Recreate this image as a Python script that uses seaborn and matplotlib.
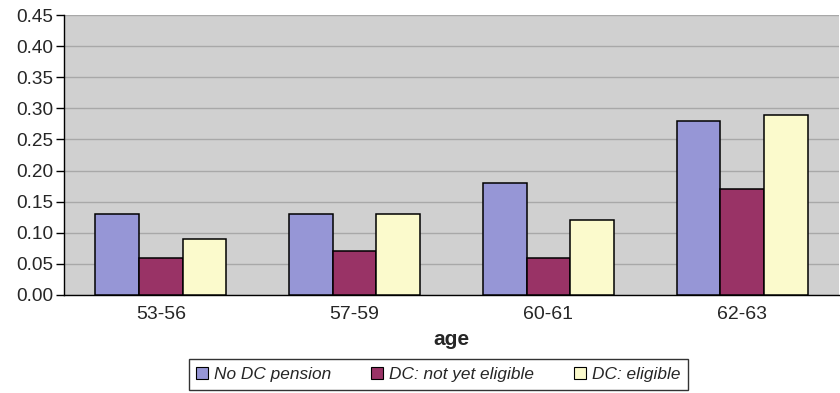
import matplotlib
matplotlib.use("Agg")
import matplotlib.pyplot as plt
import seaborn as sns
import pandas as pd
from matplotlib.patches import Patch

# Share of respondents by age group and pension status
ages = ["53-56", "57-59", "60-61", "62-63"]
no_dc = [0.13, 0.13, 0.18, 0.28]
dc_not_eligible = [0.06, 0.07, 0.06, 0.17]
dc_eligible = [0.09, 0.13, 0.12, 0.29]
series_names = ["No DC pension", "DC: not yet eligible", "DC: eligible"]
colors = ["#9696D6", "#993366", "#FBFACC"]
yticks = [0.00, 0.05, 0.10, 0.15, 0.20, 0.25, 0.30, 0.35, 0.40, 0.45]

rows = []
for name, vals in zip(series_names, [no_dc, dc_not_eligible, dc_eligible]):
    for a, v in zip(ages, vals):
        rows.append({"age": a, "status": name, "value": v})
df = pd.DataFrame(rows)

sns.set_theme(style="white")
plt.rcParams["font.family"] = ["Liberation Sans", "DejaVu Sans"]

fig = plt.figure(figsize=(8.4, 3.93), dpi=100)
ax = fig.add_axes([0.0762, 0.2494, 0.9226, 0.7124])
ax.set_facecolor("#D0D0D0")

sns.barplot(data=df, x="age", y="value", hue="status", hue_order=series_names,
            palette=colors, width=0.675, gap=0, edgecolor="black", linewidth=1.1,
            saturation=1, ax=ax, legend=False, zorder=3)

ax.set_ylim(0, 0.45)
ax.set_xlim(-0.5, 3.5)
ax.set_yticks(yticks)
ax.set_yticklabels([f"{t:.2f}" for t in yticks])
ax.yaxis.grid(True, color="#A8A8A8", linewidth=1.0, zorder=0)
ax.set_axisbelow(True)

# category labels centred, tick marks on the group boundaries
ax.set_xticks(range(len(ages)))
ax.set_xticklabels(ages)
ax.tick_params(axis="x", which="major", length=0, pad=8, labelsize=14)
ax.set_xticks([0.5, 1.5, 2.5], minor=True)
ax.tick_params(axis="x", which="minor", length=6, width=1, color="black", direction="out")
ax.tick_params(axis="y", length=6, width=1, color="black", direction="out", labelsize=13.7, pad=2, left=True)

for side in ["top", "right"]:
    ax.spines[side].set_visible(False)
for side in ["left", "bottom"]:
    ax.spines[side].set_color("black")
    ax.spines[side].set_linewidth(1.0)

ax.set_ylabel("")
ax.set_xlabel("age", fontsize=15, fontweight="bold", labelpad=5)

handles = [Patch(facecolor=c, edgecolor="black", linewidth=0.8, label=n)
           for c, n in zip(colors, series_names)]
leg = fig.legend(handles=handles, loc="center", bbox_to_anchor=(0.522, 0.047), ncol=3,
                 frameon=True, fancybox=False, edgecolor="black", handlelength=0.7,
                 handleheight=0.7, handletextpad=0.35, columnspacing=2.3,
                 prop={"style": "italic", "size": 12.4}, borderpad=0.45)
leg.get_frame().set_linewidth(1.0)

fig.savefig("out.png", dpi=100)
